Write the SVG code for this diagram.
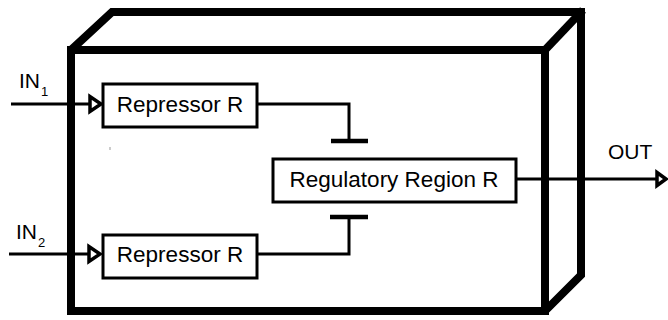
<svg xmlns="http://www.w3.org/2000/svg" width="668" height="320" viewBox="0 0 668 320">
  <style>
    .frame { fill: none; stroke: #000; stroke-width: 8; stroke-linejoin: miter; }
    .box { fill: #fff; stroke: #000; stroke-width: 3; }
    .wire { fill: none; stroke: #000; stroke-width: 3; }
    .bar { stroke: #000; stroke-width: 4.5; }
    .head { fill: #fff; stroke: #000; stroke-width: 3.5; stroke-linejoin: miter; }
    .lbl { font-family: "Liberation Sans", Arial, sans-serif; font-size: 22.5px; fill: #000; }
    .io { font-family: "Liberation Sans", Arial, sans-serif; font-size: 21px; fill: #000; }
    .sub { font-family: "Liberation Sans", Arial, sans-serif; font-size: 13px; fill: #000; }
  </style>

  <!-- cell drawn as a 3D box -->
  <g id="cell">
    <polyline class="frame" points="71,50 112,12 581,12 581,275 545,311"/>
    <line class="frame" x1="545" y1="50" x2="583" y2="10"/>
    <rect class="frame" x="71" y="50" width="474" height="261"/>
  </g>

  <g id="connectors">
    <!-- IN1 -> repressor 1 -->
    <line class="wire" x1="11" y1="104" x2="90" y2="104"/>
    <polygon class="head" points="90,96.5 90,111.5 101,104"/>
    <!-- IN2 -> repressor 2 -->
    <line class="wire" x1="9" y1="254" x2="89" y2="254"/>
    <polygon class="head" points="89,246.5 89,261.5 100,254"/>
    <!-- repressor 1 -| regulatory region -->
    <polyline class="wire" points="257,104 349,104 349,141"/>
    <line class="bar" x1="331" y1="141" x2="368" y2="141"/>
    <!-- repressor 2 -| regulatory region -->
    <polyline class="wire" points="257,254 349,254 349,217"/>
    <line class="bar" x1="330" y1="217" x2="368" y2="217"/>
    <!-- regulatory region -> OUT -->
    <line class="wire" x1="517" y1="179" x2="656" y2="179"/>
    <polygon class="head" points="657,172.5 657,185.5 666,179"/>
  </g>

  <g id="repressor1">
    <rect class="box" x="103" y="84" width="154" height="43"/>
    <text class="lbl" x="180" y="112" text-anchor="middle">Repressor R</text>
  </g>

  <g id="repressor2">
    <rect class="box" x="103" y="235" width="154" height="43"/>
    <text class="lbl" x="180" y="262" text-anchor="middle">Repressor R</text>
  </g>

  <g id="regulatory">
    <rect class="box" x="273" y="159" width="243" height="43"/>
    <text class="lbl" x="394" y="187" text-anchor="middle">Regulatory Region R</text>
  </g>

  <g id="in1">
    <text class="io" x="19" y="88">IN</text>
    <text class="sub" x="41" y="96">1</text>
  </g>

  <g id="in2">
    <text class="io" x="16" y="239">IN</text>
    <text class="sub" x="38" y="247">2</text>
  </g>

  <g id="out">
    <text class="io" x="608" y="159">OUT</text>
  </g>

  <line x1="110" y1="147" x2="110" y2="150" stroke="#999" stroke-width="1"/>
</svg>
